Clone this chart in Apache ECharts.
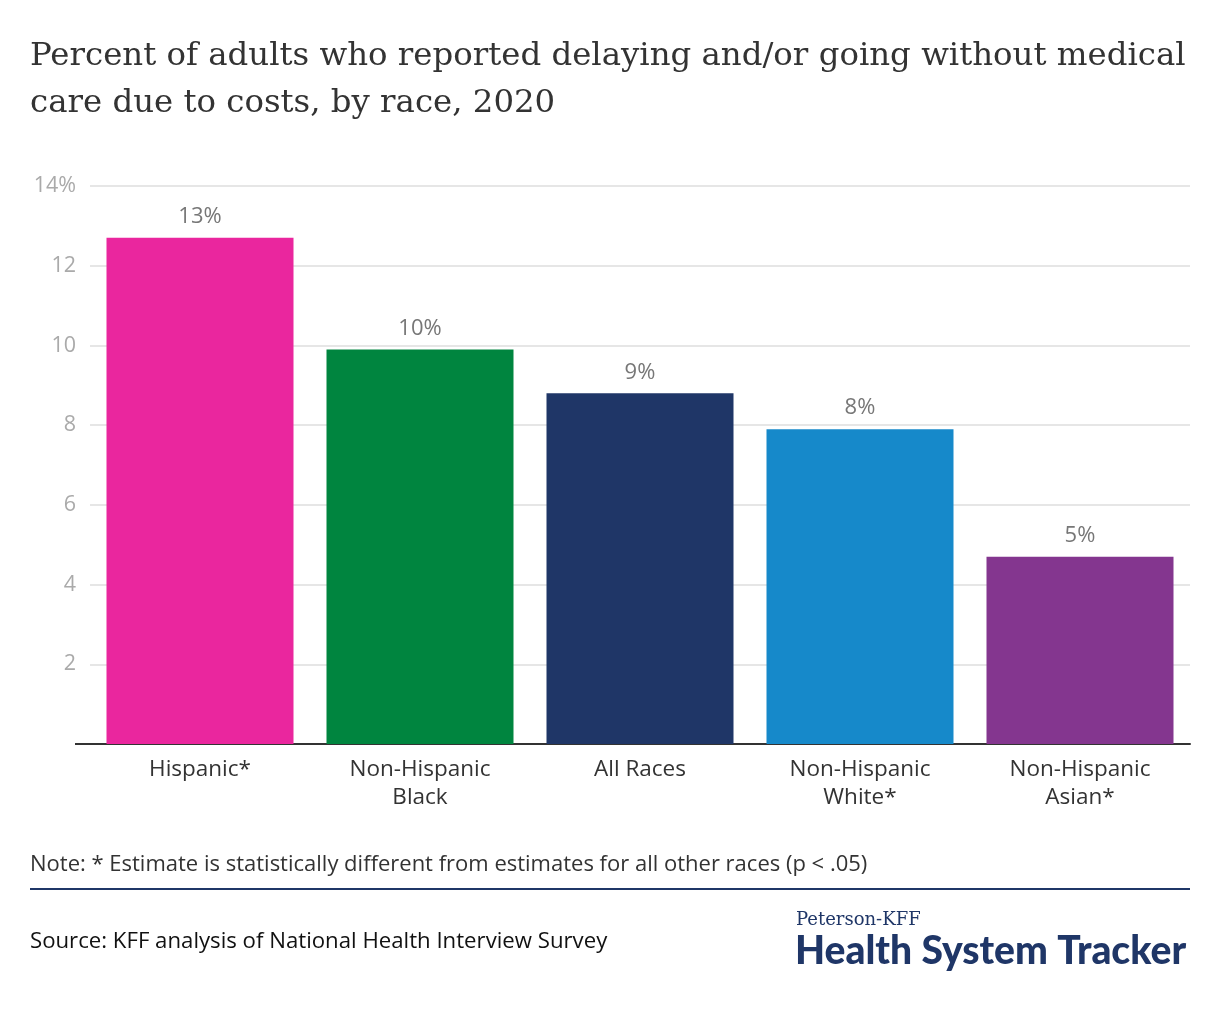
<!DOCTYPE html>
<html>
<head>
<meta charset="utf-8">
<style>
html,body{margin:0;padding:0;background:#fff;}
#chart{width:1220px;height:1020px;}
</style>
<script src="https://cdn.jsdelivr.net/npm/echarts@6/dist/echarts.min.js"></script>
</head>
<body>
<div id="chart"></div>
<script>
const categories = ['Hispanic*', 'Non-Hispanic\nBlack', 'All Races', 'Non-Hispanic\nWhite*', 'Non-Hispanic\nAsian*'];
const values = [12.7, 9.9, 8.8, 7.9, 4.7];
const valueLabels = ['13%', '10%', '9%', '8%', '5%'];
const barColors = ['#ea269e', '#00853f', '#1f3667', '#1689ca', '#84368f'];
const yTicks = [0, 2, 4, 6, 8, 10, 12, 14];

const SANS = '"Open Sans", Lato, sans-serif';
const chart = echarts.init(document.getElementById('chart'), null, {renderer: 'canvas'});
chart.setOption({
  backgroundColor: '#fff',
  animation: false,
  title: {
    text: 'Percent of adults who reported delaying and/or going without medical\ncare due to costs, by race, 2020',
    left: 25, top: 28,
    textStyle: {fontFamily: '"DejaVu Serif", serif', fontSize: 32.4, fontWeight: 'normal', color: '#333', lineHeight: 47}
  },
  grid: {left: 90, right: 30, top: 186, bottom: 276, containLabel: false},
  xAxis: {
    type: 'category',
    data: categories,
    axisTick: {show: false},
    axisLine: {lineStyle: {color: '#333', width: 2}},
    axisLabel: {fontFamily: SANS, fontSize: 22.5, color: '#333', lineHeight: 28, margin: 12}
  },
  yAxis: {
    type: 'value',
    min: 0, max: 14, interval: 2,
    axisLine: {show: false},
    axisTick: {show: false},
    splitLine: {lineStyle: {color: '#e6e6e6', width: 2}},
    axisLabel: {
      fontFamily: SANS, fontSize: 21.5, color: '#aaa', margin: 14,
      formatter: v => v === 0 ? '' : (v === yTicks[yTicks.length - 1] ? v + '%' : String(v))
    }
  },
  series: [{
    type: 'bar',
    data: values.map((v, i) => ({value: v, itemStyle: {color: barColors[i]}})),
    barWidth: '85%',
    label: {
      show: true, position: 'top', distance: 10,
      fontFamily: SANS, fontSize: 22, color: '#777',
      formatter: p => valueLabels[p.dataIndex]
    }
  }],
  graphic: [
    {type: 'line', shape: {x1: 75, y1: 744, x2: 90, y2: 744}, style: {stroke: '#333', lineWidth: 2}},
    {type: 'text', left: 30, top: 854, style: {text: 'Note: * Estimate is statistically different from estimates for all other races (p < .05)', font: '22px ' + SANS, fill: '#333'}},
    {type: 'rect', shape: {x: 30, y: 888, width: 1160, height: 2}, style: {fill: '#1f3667'}},
    {type: 'text', left: 30, top: 931, style: {text: 'Source: KFF analysis of National Health Interview Survey', font: '22.2px ' + SANS, fill: '#111'}},
    {type: 'text', left: 796, top: 911, style: {text: 'Peterson-KFF', font: '18px "DejaVu Serif", serif', fill: '#1f3667'}},
    {type: 'text', left: 795, top: 932, style: {text: 'Health System Tracker', font: '900 39px Lato, sans-serif', fill: '#1f3667'}}
  ]
});
</script>
</body>
</html>
